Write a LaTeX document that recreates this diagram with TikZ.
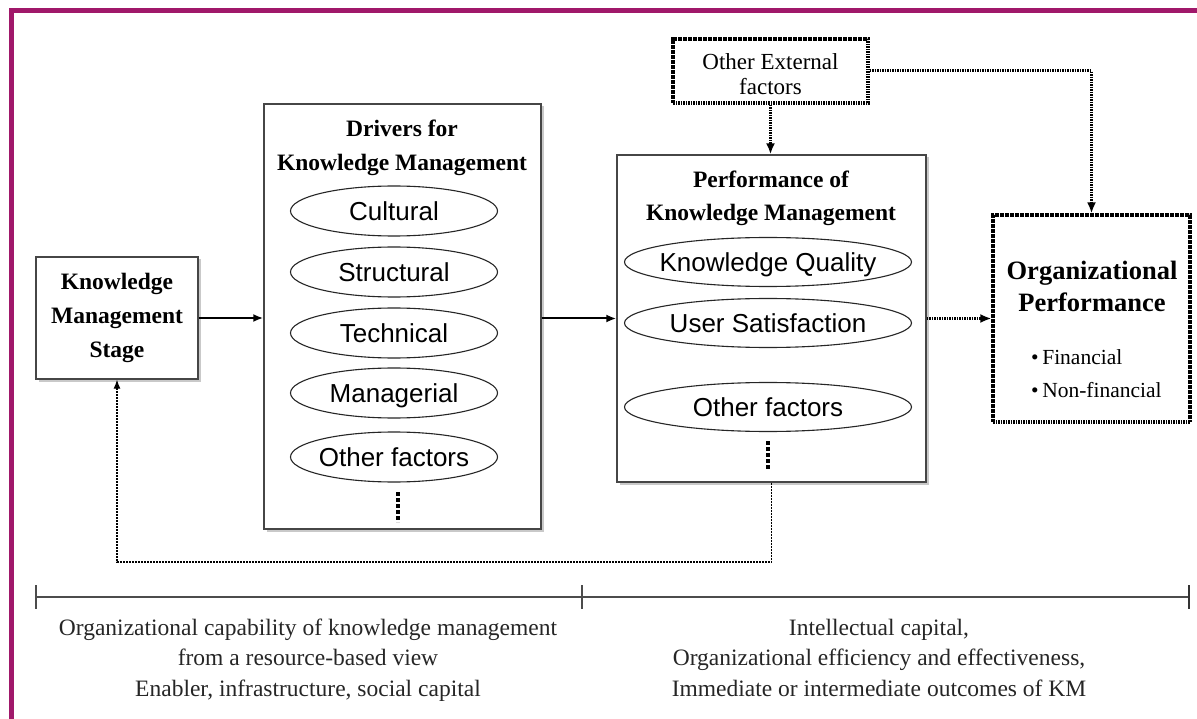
\documentclass[tikz,border=0pt]{standalone}
\usepackage{fontspec}
\setmainfont{Liberation Serif}
\newfontfamily\arialf{Liberation Sans}
\usetikzlibrary{arrows.meta,shapes.geometric,shadows}
\definecolor{framecol}{RGB}{160,24,106}
\definecolor{boxline}{RGB}{70,70,70}
\tikzset{
  plainbox/.style={draw=boxline, line width=1.4pt, fill=white, rectangle, inner sep=0pt,
    drop shadow={shadow xshift=2.5pt, shadow yshift=-2.5pt, fill=black!35, opacity=0.6}},
  dotbox/.style={draw=black, line width=3.2pt, dash pattern=on 1.6pt off 0.9pt, fill=white, rectangle, inner sep=0pt},
  oval/.style={draw=black!85, line width=1.1pt, ellipse, inner sep=0pt},
  ovaltext/.style={font=\arialf\fontsize{26}{28}\selectfont, text height=18.6pt, text depth=0pt},
  titlefont/.style={font=\bfseries\fontsize{23.5}{34}\selectfont, align=center},
  solidarrow/.style={line width=2pt, -{Latex[length=10pt,width=8pt]}},
  dotarrow/.style={line width=3pt, dash pattern=on 1.6pt off 0.9pt, -{Latex[length=11pt,width=9pt]}},
  fbline/.style={line width=1.1pt, dash pattern=on 2pt off 1pt, -{Latex[length=9pt,width=7pt]}},
  vdots/.style={line width=3.5pt, dash pattern=on 3.5pt off 2.5pt},
  bottomtext/.style={font=\fontsize{23.5}{30.5}\selectfont, align=center, text=black!85},
}
\begin{document}
\begin{tikzpicture}[x=1pt,y=-1pt]
\useasboundingbox (0,0) rectangle (1197,719);
\fill[white] (0,0) rectangle (1197,719);
% frame
\draw[framecol, line width=5pt] (11,719) -- (11,11) -- (1197,11);

% boxes
\node[plainbox, minimum width=162pt, minimum height=122pt, titlefont] (km) at (117,318)
  {Knowledge\\Management\\Stage};
\node[plainbox, minimum width=277pt, minimum height=425pt] (drv) at (402.5,316.5) {};
\node[plainbox, minimum width=309pt, minimum height=327pt] (perf) at (771.5,318.5) {};
\node[dotbox, minimum width=195pt, minimum height=64pt] (ext) at (770.5,71) {};
\node[dotbox, minimum width=197pt, minimum height=207pt] (org) at (1091.5,318.5) {};

% titles
\node[titlefont] (drvt) at (402,147.5) {Drivers for\\Knowledge Management};
\node[titlefont, font=\bfseries\fontsize{23.5}{33}\selectfont] (perft) at (771,198.5) {Performance of\\Knowledge Management};
\node[font=\fontsize{23}{25}\selectfont, align=center] (extt) at (770.5,74.5) {Other External\\factors};
\node[font=\bfseries\fontsize{26.5}{32}\selectfont, align=center] (orgt) at (1092,286) {Organizational\\Performance};
\node[font=\fontsize{21.5}{33}\selectfont, align=left, anchor=west, inner sep=0pt] (orgb) at (1031,373.5)
  {•\,Financial\\•\,Non-financial};

% ellipses in drivers
\foreach \n/\y/\t in {d1/211/Cultural, d2/272/Structural, d3/333/Technical, d4/393/Managerial, d5/457/Other factors}{
  \node[oval, minimum width=207pt, minimum height=50pt, label={[ovaltext]center:\t}] (\n) at (394,\y) {};
}
% ellipses in performance
\foreach \n/\y/\t in {p1/262/Knowledge Quality, p2/323/User Satisfaction, p3/407/Other factors}{
  \node[oval, minimum width=287pt, minimum height=49pt, label={[ovaltext]center:\t}] (\n) at (768,\y) {};
}
% vertical dots
\draw[vdots] (398,492) -- (398,522);
\draw[vdots] (768,441) -- (768,470);

% connectors
\draw[solidarrow] (km.east) -- (km.east -| drv.west);
\draw[solidarrow] (drv.east |- perf.west) -- (perf.west);
\draw[dotarrow] (perf.east) -- (org.west);
\draw[dotarrow] (ext.south) -- (ext.south |- perf.north);
\draw[dotarrow] (ext.east) -| (org.north);
\coordinate (fbc) at (0,562);
\draw[fbline] (perf.south) -- (perf.south |- fbc) -| (km.south);

% timeline
\coordinate (tl) at (36,597);
\coordinate (tm) at (582,597);
\coordinate (tr) at (1189,597);
\draw[black!70, line width=1.6pt] (tl) -- (tr);
\draw[black!70, line width=1.4pt] (tl) ++(0,-12) -- ++(0,24);
\draw[black!70, line width=1.4pt] (tm) ++(0,-12) -- ++(0,24);
\draw[black!80, line width=2.6pt] (tr) ++(0,-12) -- ++(0,24);

\node[bottomtext] (bl) at (308,660) {Organizational capability of knowledge management\\from a resource-based view\\Enabler, infrastructure, social capital};
\node[bottomtext] (br) at (879,657.5) {Intellectual capital,\\Organizational efficiency and effectiveness,\\Immediate or intermediate outcomes of KM};
\end{tikzpicture}
\end{document}
